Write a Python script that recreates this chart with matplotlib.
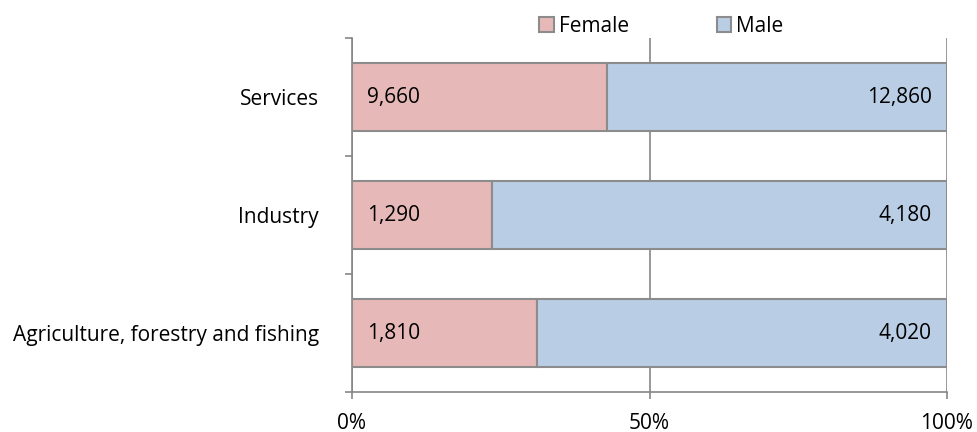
import numpy as np
import matplotlib
matplotlib.use("Agg")
import matplotlib.pyplot as plt

# Data (bottom to top)
categories = ["Agriculture, forestry and fishing", "Industry", "Services"]
female = [1810, 1290, 9660]
male = [4020, 4180, 12860]
series_names = ["Female", "Male"]

FEMALE_COLOR = "#E6B9B8"
MALE_COLOR = "#B9CDE5"
EDGE = "#8C8C8C"
AXIS_GRAY = "#868686"
FS = 15

plt.rcParams["font.family"] = ["Open Sans", "DejaVu Sans"]

female_arr = np.array(female, dtype=float)
male_arr = np.array(male, dtype=float)
total = female_arr + male_arr
f_share = female_arr / total
m_share = male_arr / total

fig = plt.figure(figsize=(9.77, 4.32), dpi=100)
ax = fig.add_axes([352 / 977, 1 - 392 / 432, (947 - 352) / 977, (392 - 38) / 432])

y = np.arange(len(categories))
h = 0.58
bf = ax.barh(y, f_share, height=h, color=FEMALE_COLOR, edgecolor=EDGE,
             linewidth=1.5, label=series_names[0], zorder=3)
bm = ax.barh(y, m_share, left=f_share, height=h, color=MALE_COLOR, edgecolor=EDGE,
             linewidth=1.5, label=series_names[1], zorder=3)

for i in range(len(categories)):
    ax.annotate(f"{female[i]:,}", xy=(0, y[i]), xytext=(11, 0),
                textcoords="offset points", ha="left", va="center",
                fontsize=FS, zorder=4)
    ax.annotate(f"{male[i]:,}", xy=(1, y[i]), xytext=(-11, 0),
                textcoords="offset points", ha="right", va="center",
                fontsize=FS, zorder=4)

ax.set_xlim(0, 1)
ax.set_ylim(-0.5, len(categories) - 0.5)

ax.set_xticks([0, 0.5, 1])
ax.set_xticklabels(["0%", "50%", "100%"], fontsize=FS)
ax.tick_params(axis="x", length=5, width=1.2, color=AXIS_GRAY, pad=10)
ax.xaxis.grid(True, color=AXIS_GRAY, linewidth=1.2, zorder=0)

ax.set_yticks(y)
ax.set_yticklabels(categories, fontsize=FS)
ax.tick_params(axis="y", which="major", length=0, pad=24)
ax.set_yticks(np.arange(-0.5, len(categories)), minor=True)
ax.tick_params(axis="y", which="minor", length=5, width=1.2, color=AXIS_GRAY)

for side in ["top", "right"]:
    ax.spines[side].set_visible(False)
for side in ["left", "bottom"]:
    ax.spines[side].set_color(AXIS_GRAY)
    ax.spines[side].set_linewidth(1.2)

leg = fig.legend(handles=[bf, bm], labels=series_names, loc="center",
                 bbox_to_anchor=(0.677, 1 - 26 / 432), ncol=2, frameon=False,
                 fontsize=FS, handlelength=0.7, handleheight=0.7,
                 handletextpad=0.25, columnspacing=4.2)

fig.savefig("out.png", dpi=100)
